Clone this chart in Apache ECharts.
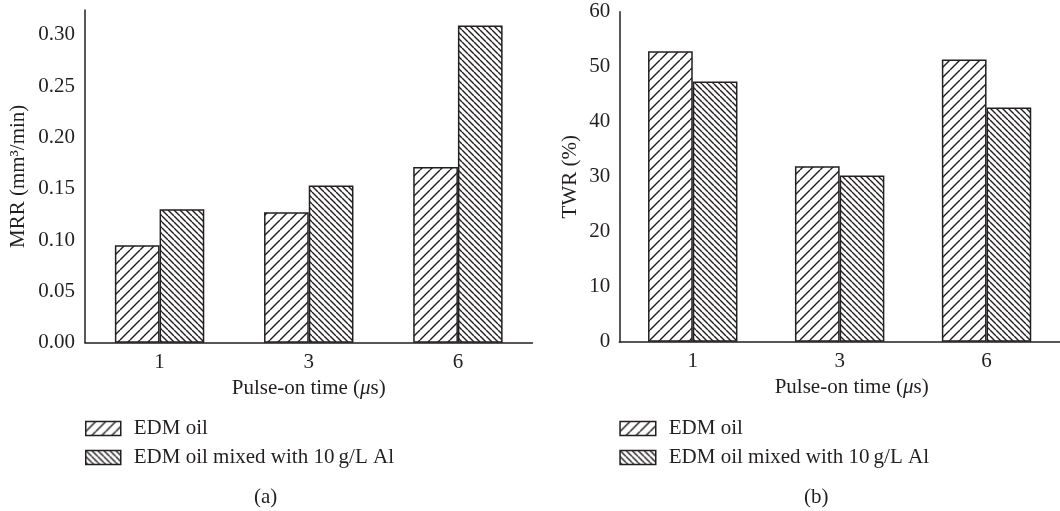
<!DOCTYPE html>
<html>
<head>
    <meta charset="UTF-8">
    <title>MRR / TWR vs pulse-on time</title>
    <script src="https://cdn.jsdelivr.net/npm/echarts@6/dist/echarts.min.js"></script>
</head>
<body style="margin:0;">
<div id="main" style="width:1060px; height:511px;"></div>
<script>
    // data
    var pulseOn = ['1', '3', '6'];
    var seriesNames = ['EDM oil', 'EDM oil mixed with 10\u2009g/L Al'];
    var mrrOil = [0.095, 0.127, 0.171];
    var mrrAl = [0.130, 0.153, 0.309];
    var twrOil = [52.8, 31.9, 51.3];
    var twrAl = [47.3, 30.2, 42.6];

    var ink = '#231f20';
    var font = '"Liberation Serif", "DejaVu Serif", serif';
    var fs = 21;

    // diagonal hatch tile, dir '/' or '\'
    function hatch(size, dir) {
        var c = document.createElement('canvas');
        c.width = size;
        c.height = size;
        var ctx = c.getContext('2d');
        ctx.fillStyle = '#fff';
        ctx.fillRect(0, 0, size, size);
        ctx.strokeStyle = ink;
        ctx.lineWidth = 1.4;
        for (var k = -size; k <= size; k += size) {
            ctx.beginPath();
            if (dir == '/') {
                ctx.moveTo(k, size);
                ctx.lineTo(k + size, 0);
            } else {
                ctx.moveTo(k, 0);
                ctx.lineTo(k + size, size);
            }
            ctx.stroke();
        }
        return {image: c, repeat: 'repeat'};
    }

    var oilStyle = {color: hatch(10, '/'), borderColor: ink, borderWidth: 1.5};
    var alStyle = {color: hatch(6, '\\'), borderColor: ink, borderWidth: 1.5};

    var chart = echarts.init(document.getElementById('main'), null, {renderer: 'canvas'});

    function xAxis(idx, pad) {
        return {
            type: 'category', gridIndex: idx, data: pulseOn,
            axisLine: {lineStyle: {color: ink, width: 1.5}},
            axisTick: {show: false},
            axisLabel: {color: ink, fontFamily: font, fontSize: fs, margin: 9},
            name: 'Pulse-on time ({i|\u03bc}s)', nameLocation: 'middle', nameGap: 35,
            nameTextStyle: {
                color: ink, fontFamily: font, fontSize: fs, padding: [0, 0, 0, pad],
                rich: {i: {color: ink, fontFamily: font, fontSize: fs, fontStyle: 'italic'}}
            }
        };
    }

    function legend(x, w) {
        return {
            orient: 'vertical', left: x, top: 413, itemWidth: w, itemHeight: 14, itemGap: 8,
            icon: 'rect', textStyle: {color: ink, fontFamily: font, fontSize: fs, padding: [0, 0, 0, 8]},
            data: [{name: seriesNames[0], itemStyle: oilStyle}, {name: seriesNames[1], itemStyle: alStyle}]
        };
    }

    var option = {
        animation: false,
        backgroundColor: '#fff',
        grid: [
            {left: 85, top: 10, width: 447.5, height: 332.7},
            {left: 619.3, top: 11.7, width: 447, height: 330}
        ],
        xAxis: [xAxis(0, 0), xAxis(1, 24)],
        yAxis: [{
            type: 'value', gridIndex: 0, min: 0, max: 0.324, interval: 0.05,
            axisLine: {show: true, lineStyle: {color: ink, width: 1.5}},
            axisTick: {show: false},
            splitLine: {show: false},
            axisLabel: {color: ink, fontFamily: font, fontSize: fs, margin: 10, showMaxLabel: false,
                formatter: function (v) { return v.toFixed(2); }},
            name: 'MRR (mm\u00b3/min)', nameLocation: 'middle', nameGap: 56,
            nameTextStyle: {color: ink, fontFamily: font, fontSize: fs}
        }, {
            type: 'value', gridIndex: 1, min: 0, max: 60, interval: 10,
            axisLine: {show: true, lineStyle: {color: ink, width: 1.5}},
            axisTick: {show: false},
            splitLine: {show: false},
            axisLabel: {color: ink, fontFamily: font, fontSize: fs, margin: 9},
            name: 'TWR (%)', nameLocation: 'middle', nameGap: 38,
            nameTextStyle: {color: ink, fontFamily: font, fontSize: fs}
        }],
        legend: [legend(80, 35), legend(614.3, 35.7)],
        graphic: [
            {type: 'text', left: 254, top: 487, style: {text: '(a)', fill: ink, font: fs + 'px ' + font}},
            {type: 'text', left: 804, top: 487, style: {text: '(b)', fill: ink, font: fs + 'px ' + font}}
        ],
        series: [
            {name: seriesNames[0], type: 'bar', xAxisIndex: 0, yAxisIndex: 0, data: mrrOil,
                barWidth: 44.7, barGap: 0, itemStyle: oilStyle},
            {name: seriesNames[1], type: 'bar', xAxisIndex: 0, yAxisIndex: 0, data: mrrAl,
                barWidth: 44.7, barGap: 0, itemStyle: alStyle},
            {name: seriesNames[0], type: 'bar', xAxisIndex: 1, yAxisIndex: 1, data: twrOil,
                barWidth: 44.7, barGap: 0, itemStyle: oilStyle},
            {name: seriesNames[1], type: 'bar', xAxisIndex: 1, yAxisIndex: 1, data: twrAl,
                barWidth: 44.7, barGap: 0, itemStyle: alStyle}
        ]
    };
    chart.setOption(option);
</script>
</body>
</html>
